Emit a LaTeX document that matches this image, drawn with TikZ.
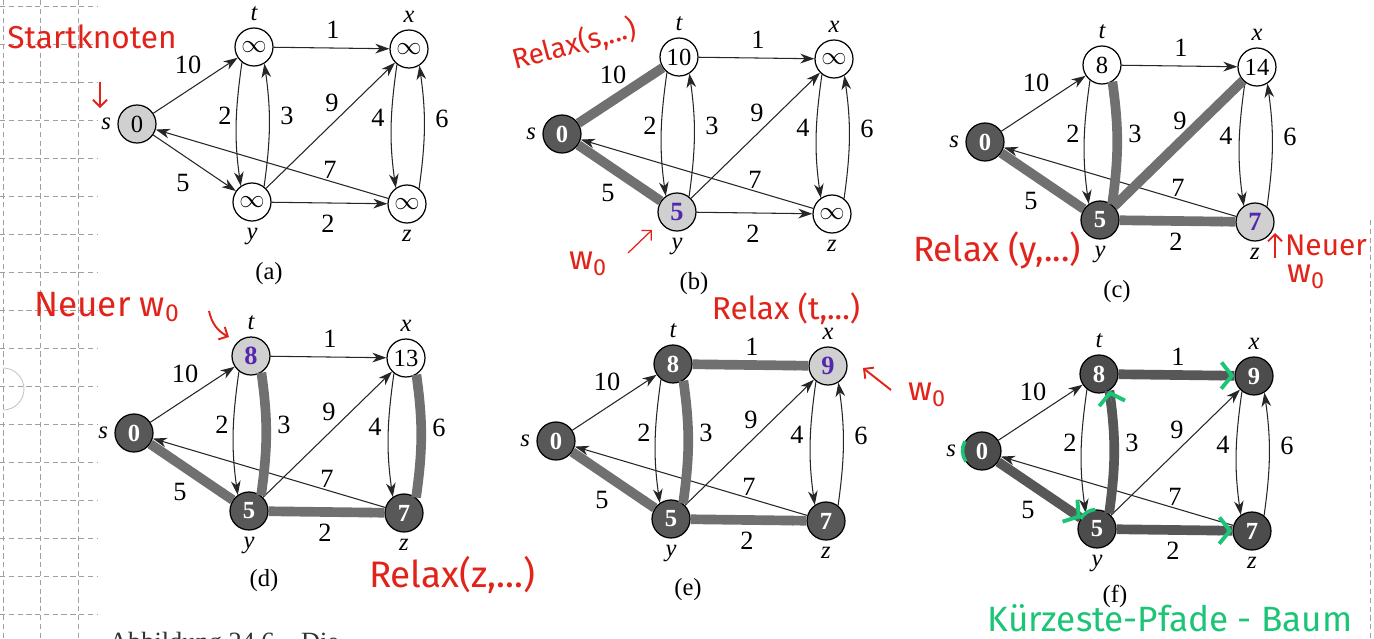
\documentclass[tikz,border=0pt]{standalone}
\usepackage{fontspec}
\setmainfont{Liberation Serif}
\newfontfamily\handfont{Fira Sans}
\usetikzlibrary{arrows.meta,calc}
\definecolor{notered}{RGB}{226,35,26}
\definecolor{markgreen}{RGB}{28,196,118}
\definecolor{inkpurple}{RGB}{84,40,172}
\definecolor{darkvert}{RGB}{88,88,88}
\definecolor{lightvert}{RGB}{208,208,208}
\definecolor{treegray}{RGB}{112,112,112}
\definecolor{gridgray}{RGB}{160,160,160}

\newcommand{\panelgraph}[6]{%
  \node[vert,vs,label={[lbl]left:s}] (#1s) at (0,0) {#2};
  \node[vert,vt,label={[lbl]above:t}] (#1t) at (117,-77) {#3};
  \node[vert,vx,label={[lbl]above:x}] (#1x) at (272,-75) {#4};
  \node[vert,vy,label={[lbl]below:y}] (#1y) at (115,78) {#5};
  \node[vert,vz,label={[lbl]below:z}] (#1z) at (270,80) {#6};
  \draw[edgearc] (#1s) -- (#1t);
  \draw[edgearc] (#1s) -- (#1y);
  \draw[edgearc] (#1t) -- (#1x);
  \draw[edgearc] (#1t.232) to[lcurve] (#1y.125);
  \draw[edgearc] (#1y.52) to[rcurve] (#1t.302);
  \draw[edgearc] (#1y) -- (#1x);
  \draw[edgearc] (#1x.232) to[lcurve] (#1z.125);
  \draw[edgearc] (#1z.52) to[rcurve] (#1x.302);
  \draw[edgearc] (#1z) -- (#1s);
  \draw[edgearc] (#1y) -- (#1z);
  \node[wt] (#1w10) at (51,-59) {10};
  \node[wt] (#1w5) at (46,59) {5};
  \node[wt] (#1w1) at (196,-94) {1};
  \node[wt] (#1w2a) at (88,-8) {2};
  \node[wt] (#1w3) at (150,-8) {3};
  \node[wt] (#1w9) at (195,-21) {9};
  \node[wt] (#1w4) at (241,-6) {4};
  \node[wt] (#1w6) at (305,-5) {6};
  \node[wt] (#1w7) at (193,46) {7};
  \node[wt] (#1w2b) at (191,100) {2};
}

\begin{document}
\begin{tikzpicture}[x=0.02cm, y=-0.02cm, label distance=2.5pt,
  vert/.style={circle, draw, line width=0.7pt, minimum size=0.76cm, inner sep=0pt, fill=white, font=\fontsize{14}{14}\selectfont},
  startshade/.style={fill=lightvert},
  marked/.style={fill=lightvert, text=inkpurple, font=\fontsize{15}{15}\selectfont\bfseries},
  done/.style={fill=darkvert, text=white, font=\fontsize{14}{14}\selectfont\bfseries},
  vs/.style={}, vt/.style={}, vx/.style={}, vy/.style={}, vz/.style={},
  lbl/.style={font=\fontsize{14}{14}\selectfont\itshape, inner sep=1pt},
  wt/.style={font=\fontsize{15}{15}\selectfont, inner sep=0pt},
  panelcap/.style={font=\fontsize{14}{14}\selectfont},
  edgearc/.style={draw=black!85, line width=0.6pt, -{Stealth[length=8pt, width=5.5pt, inset=2.5pt]}},
  lcurve/.style={out=262, in=98},
  rcurve/.style={out=82, in=278},
  tree/.style={draw=treegray, line width=5.5pt},
  greenbarb/.style={draw=markgreen, line width=0.1pt, -{Straight Barb[color=markgreen, length=6pt, width=15pt, line width=2.2pt]}},
  note/.style={text=notered, font=\handfont\fontsize{19}{19}\selectfont, inner sep=0pt},
  notearrow/.style={draw=notered, line width=1.1pt, -{Straight Barb[length=4pt, width=8pt]}},
  marker/.style={text=markgreen, font=\handfont\fontsize{20}{20}\selectfont, inner sep=0pt},
  gridline/.style={draw=gridgray, line width=0.4pt, densely dashed}]

\useasboundingbox (0,0) rectangle (1374,639);
\clip (0,0) rectangle (1374,639);
\fill[white] (0,0) rectangle (1374,639);

\foreach \gy in {6,44,...,614} \draw[gridline] (0,\gy) -- (98,\gy);
\foreach \gx in {3,40,78} \draw[gridline] (\gx,0) -- (\gx,639);
\draw[gridline] (1370,220) -- (1370,639);
\draw[gridgray!60, line width=0.5pt] (3,368) arc[start angle=90, end angle=-90, radius=0.42cm];

\begin{scope}[shift={(137,124)}, vs/.style=startshade]
  \panelgraph{a}{0}{$\infty$}{$\infty$}{$\infty$}{$\infty$}
  \node[panelcap] (capa) at (132,150) {(a)};
\end{scope}

\begin{scope}[shift={(562,134)}, vs/.style=done, vy/.style=marked]
  \panelgraph{b}{0}{10}{$\infty$}{5}{$\infty$}
  \draw[tree] (bs) -- (bt);
  \draw[tree] (bs) -- (by);
  \node[panelcap] (capb) at (132,150) {(b)};
\end{scope}

\begin{scope}[shift={(985,142)}, vs/.style=done, vy/.style=done, vz/.style=marked]
  \panelgraph{c}{0}{8}{14}{5}{7}
  \draw[tree] (cs) -- (cy);
  \draw[tree] (cy.52) to[rcurve] (ct.302);
  \draw[tree] (cy) -- (cx);
  \draw[tree] (cy) -- (cz);
  \node[panelcap] (capc) at (132,150) {(c)};
\end{scope}

\begin{scope}[shift={(134,433)}, vs/.style=done, vt/.style=marked, vy/.style=done, vz/.style=done]
  \panelgraph{d}{0}{8}{13}{5}{7}
  \draw[tree] (ds) -- (dy);
  \draw[tree] (dy.52) to[rcurve] (dt.302);
  \draw[tree] (dy) -- (dz);
  \draw[tree] (dz.52) to[rcurve] (dx.302);
  \node[panelcap] (capd) at (130,148) {(d)};
\end{scope}

\begin{scope}[shift={(556,441)}, vs/.style=done, vt/.style=done, vx/.style=marked, vy/.style=done, vz/.style=done]
  \panelgraph{e}{0}{8}{9}{5}{7}
  \draw[tree] (es) -- (ey);
  \draw[tree] (ey.52) to[rcurve] (et.302);
  \draw[tree] (et) -- (ex);
  \draw[tree] (ey) -- (ez);
  \node[panelcap] (cape) at (132,149) {(e)};
\end{scope}

\begin{scope}[shift={(982,451)}, done/.append style={fill=black!70}, tree/.append style={draw=black!66},
  vs/.style=done, vt/.style=done, vx/.style=done, vy/.style=done, vz/.style=done]
  \panelgraph{f}{0}{8}{9}{5}{7}
  \draw[tree] (fs) -- (fy);
  \draw[tree] (fy.52) to[rcurve] (ft.302);
  \draw[tree] (ft) -- (fx);
  \draw[tree] (fy) -- (fz);
  \draw[greenbarb] ($(fx)!0.55cm!(ft)$) -- (fx);
  \draw[greenbarb] ($(fy)!0.55cm!(fs)$) -- (fy);
  \draw[greenbarb] ($(fz)!0.55cm!(fy)$) -- (fz);
  \draw[greenbarb] ($(ft.302)+(3,14)$) -- (ft.302);
  \draw[markgreen, line width=2pt] (fs.150) arc[start angle=150, end angle=215, radius=0.38cm];
  \draw[markgreen, line width=2pt] (fy.95) arc[start angle=95, end angle=150, radius=0.38cm];
  \node[panelcap] (capf) at (133,145) {(f)};
\end{scope}

\node[note, font=\handfont\fontsize{18}{18}\selectfont] (startnote) at (92,37) {Startknoten};
\coordinate (startarrowa) at (100,82);
\coordinate (startarrowb) at (100,108);
\draw[notearrow] (startarrowa) -- (startarrowb);

\node[note, rotate=15, font=\handfont\fontsize{16}{16}\selectfont] (relaxs) at (574,44) {Relax(s,...)};
\node[note] (wob) at (588,264) {w\textsubscript{0}};
\coordinate (wobarrowa) at (628,253);
\coordinate (wobarrowb) at (652,230);
\draw[notearrow, line width=0.7pt] (wobarrowa) -- (wobarrowb);

\node[note, font=\handfont\fontsize{20}{20}\selectfont] (relaxy) at (997,250) {Relax (y,...)};
\node[note, font=\handfont\fontsize{17}{17}\selectfont] (neuerc) at (1326,245) {Neuer};
\node[note] (woc) at (1306,277) {w\textsubscript{0}};
\coordinate (neuercarrowa) at (1275,258);
\coordinate (neuercarrowb) at (1275,233);
\draw[notearrow] (neuercarrowa) -- (neuercarrowb);

\node[note, font=\handfont\fontsize{20}{20}\selectfont] (neuerd) at (107,307) {Neuer w\textsubscript{0}};
\coordinate (neuerdarrowa) at (209,311);
\coordinate (neuerdarrowb) at (229,337);
\draw[notearrow] (neuerdarrowa) to[bend right=25] (neuerdarrowb);

\node[note, font=\handfont\fontsize{21}{21}\selectfont] (relaxz) at (452,575) {Relax(z,...)};
\node[note, font=\handfont\fontsize{18}{18}\selectfont] (relaxt) at (786,309) {Relax (t,...)};
\coordinate (woearrowa) at (891,390);
\coordinate (woearrowb) at (863,368);
\draw[notearrow] (woearrowa) -- (woearrowb);
\node[note] (woe) at (927,395) {w\textsubscript{0}};

\node[marker] (treenote) at (1170,618) {Kürzeste-Pfade - Baum};

\node[anchor=base west, font=\fontsize{15}{15}\selectfont, text=black!80] (figcap) at (103,650) {Abbildung 24.6\quad Die};
\end{tikzpicture}
\end{document}
